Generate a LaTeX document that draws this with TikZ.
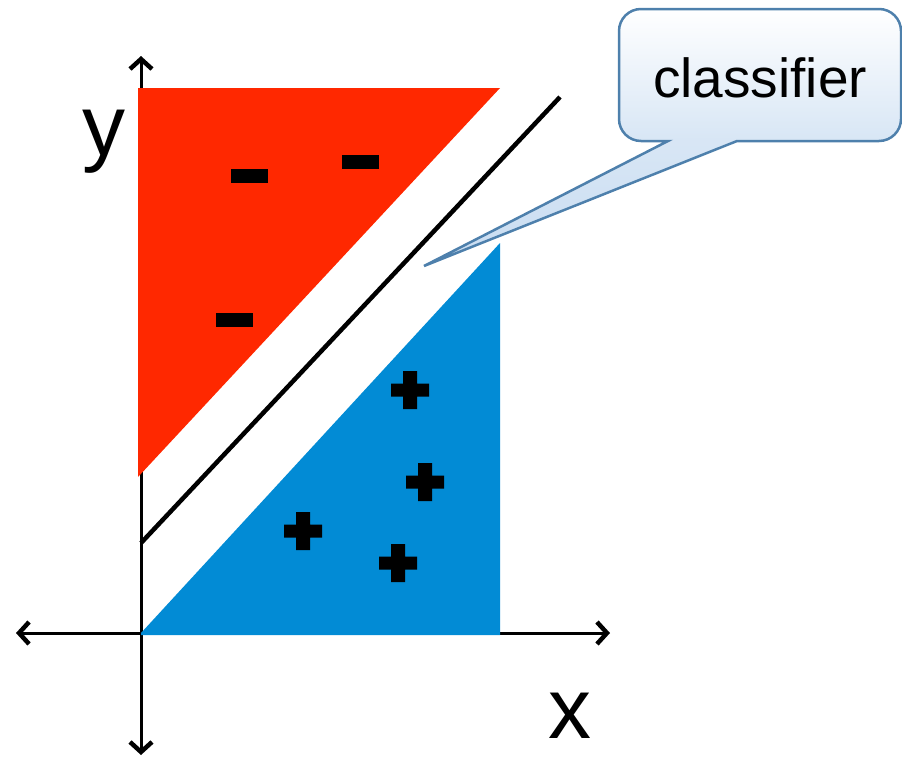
\documentclass[tikz,border=0pt]{standalone}
\usepackage{fontspec}
\setmainfont{Liberation Sans}
\usepackage{tikz}
\usetikzlibrary{positioning,arrows.meta}
\usepackage{xcolor}
\definecolor{negred}{RGB}{255,40,0}
\definecolor{posblue}{RGB}{2,139,213}
\definecolor{calloutline}{RGB}{78,128,172}
\definecolor{calloutfill}{RGB}{200,220,241}

\begin{document}
\begin{tikzpicture}[x=1pt,y=-1pt,
  axis/.style={line width=3pt,{Straight Barb[length=10pt,width=22pt,line width=4.5pt]}-{Straight Barb[length=10pt,width=22pt,line width=4.5pt]}},
  minusbar/.style={fill=black,minimum width=37pt,minimum height=14pt,inner sep=0pt},
  label/.style={font=\fontsize{86}{90}\selectfont,inner sep=0pt}]
\useasboundingbox (0,0) rectangle (902,758);
% axes
\coordinate (O) at (141,633);
\coordinate (ytop) at (141,56);
\coordinate (ybot) at (141,755);
\coordinate (xleft) at (16,633);
\coordinate (xright) at (610,633);
\draw[axis] (ybot) -- (ytop);
\draw[axis] (xleft) -- (xright);
\node[label] (ylab) at (104,142) {y};
\node[label] (xlab) at (570,716) {x};
% regions
\fill[negred] (138,88) -- (500,88) -- (138,477) -- cycle;
\fill[posblue] (141,635) -- (500,635) -- (500,243) -- (O) -- cycle;
% classifier line
\coordinate (cstart) at (141,543);
\coordinate (cend) at (560,97);
\draw[line width=4.5pt] (cstart) -- (cend);
% negative samples
\node[minusbar] (m1) at (249,176) {};
\node[minusbar] (m2) at (360,162) {};
\node[minusbar] (m3) at (234,320) {};
% positive samples
\coordinate (p1) at (410,390);
\coordinate (p2) at (425,482);
\coordinate (p3) at (303,531);
\coordinate (p4) at (398,563);
\fill (p1) +(-19,-6.5) rectangle +(19,6.5) +(-7,-19) rectangle +(7,19);
\fill (p2) +(-19,-6.5) rectangle +(19,6.5) +(-7,-19) rectangle +(7,19);
\fill (p3) +(-19,-6.5) rectangle +(19,6.5) +(-7,-19) rectangle +(7,19);
\fill (p4) +(-19,-6.5) rectangle +(19,6.5) +(-7,-19) rectangle +(7,19);
% callout
\coordinate (tip) at (424,266);
\draw[calloutline,line width=2.5pt,top color=white,bottom color=calloutfill,middle color=calloutfill!70]
  (668,141) [rounded corners=22pt] -- (619,141) -- (619,9) -- (901,9) -- (901,141) [sharp corners] -- (737,141) -- (tip) -- cycle;
\node[font=\fontsize{55}{60}\selectfont,inner sep=0pt] (clf) at (760,78) {classifier};
\end{tikzpicture}
\end{document}
